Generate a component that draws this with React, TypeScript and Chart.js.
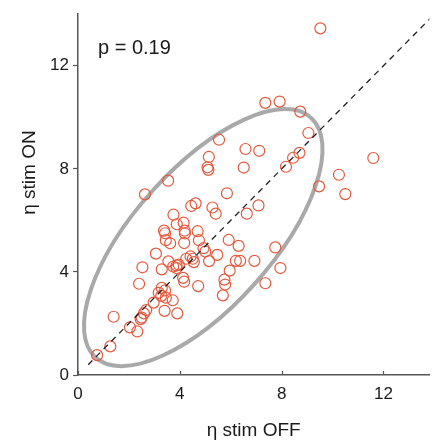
import React, { useEffect, useRef } from "react";
import { Chart, registerables } from "chart.js";

Chart.register(...registerables);

// Data (η stim OFF, η stim ON)
const stimOff: number[] = [
  9.52, 7.36, 7.92, 8.73, 9.05, 5.54, 6.58, 7.12, 8.70, 8.45,
  8.17, 5.14, 5.09, 5.12, 6.51, 11.6, 10.25, 9.47, 10.5, 3.54,
  2.63, 5.85, 4.45, 4.62, 5.28, 5.41, 6.63, 7.09, 3.75, 3.88,
  4.15, 4.19, 4.20, 3.38, 3.42, 4.70, 3.45, 3.62, 4.17, 4.75,
  5.92, 6.31, 7.75, 3.06, 4.93, 5.00, 4.42, 4.51, 4.25, 5.47,
  5.15, 4.55, 3.55, 3.74, 3.87, 3.96, 3.87, 3.29, 2.53, 6.20,
  6.37, 6.93, 5.96, 7.95, 4.13, 4.17, 4.72, 2.40, 5.75, 5.78,
  5.69, 7.36, 3.29, 3.42, 3.17, 3.27, 3.45, 3.72, 2.97, 3.40,
  3.90, 2.68, 2.59, 2.50, 2.46, 2.04, 2.33, 1.40, 1.27, 0.75,
];
const stimOn: number[] = [
  13.45, 10.56, 10.61, 10.22, 9.39, 9.13, 8.77, 8.70, 8.62, 8.43,
  8.08, 8.46, 8.06, 7.96, 8.05, 8.42, 7.77, 7.32, 7.02, 7.54,
  7.01, 7.05, 6.56, 6.66, 6.50, 6.26, 6.26, 6.58, 6.22, 5.85,
  5.91, 5.60, 5.49, 5.60, 5.50, 5.58, 5.23, 5.11, 5.12, 5.23,
  5.24, 5.01, 4.95, 4.71, 4.92, 4.79, 4.60, 4.51, 4.51, 4.66,
  4.42, 4.38, 4.41, 4.21, 4.25, 4.28, 4.15, 4.10, 4.18, 4.43,
  4.43, 4.43, 4.05, 4.15, 3.77, 3.62, 3.45, 3.54, 3.70, 3.51,
  3.09, 3.56, 3.38, 3.28, 3.19, 3.07, 3.00, 2.90, 2.81, 2.49,
  2.39, 2.52, 2.39, 2.23, 2.17, 1.85, 1.69, 2.26, 1.11, 0.77,
];

const identityLine = [0.4, 14];
const xTickValues = [0, 4, 8, 12];
const yTickValues = [0, 4, 8, 12];
const xRange = [0, 13.8];
const yRange = [0, 14];

// Confidence ellipse (data units)
const ellipseCenter = [4.92, 5.33];
const ellipseAxes = [6.29, 2.7];
const ellipseAngleDeg = 47.6;

const pLabel = "p = 0.19";
const xTitle = "η stim OFF";
const yTitle = "η stim ON";

const FONT = "'Liberation Sans', Arial, Helvetica, sans-serif";
const AXIS_COLOR = "#555555";
const TEXT_COLOR = "#1a1a1a";
const POINT_COLOR = "rgb(230, 88, 60)";

const overlayPlugin = {
  id: "overlay",
  beforeDatasetsDraw(chart: any) {
    const { ctx, scales } = chart;
    const xs = scales.x;
    const ys = scales.y;
    const cx = xs.getPixelForValue(ellipseCenter[0]);
    const cy = ys.getPixelForValue(ellipseCenter[1]);
    const pxX = xs.getPixelForValue(1) - xs.getPixelForValue(0);
    const pxY = ys.getPixelForValue(0) - ys.getPixelForValue(1);
    ctx.save();
    ctx.beginPath();
    const th = (ellipseAngleDeg * Math.PI) / 180;
    ctx.save();
    ctx.translate(cx, cy);
    ctx.scale(pxX, -pxY);
    ctx.rotate(th);
    ctx.ellipse(0, 0, ellipseAxes[0], ellipseAxes[1], 0, 0, Math.PI * 2);
    ctx.restore();
    ctx.strokeStyle = "#a9a9a9";
    ctx.lineWidth = 4;
    ctx.stroke();
    ctx.restore();
  },
  afterDraw(chart: any) {
    const { ctx, scales, chartArea } = chart;
    const xs = scales.x;
    ctx.save();
    // inward x ticks
    ctx.strokeStyle = AXIS_COLOR;
    ctx.lineWidth = 1.2;
    xTickValues.forEach((v) => {
      const px = Math.round(xs.getPixelForValue(v)) + 0.5;
      ctx.beginPath();
      ctx.moveTo(px, chartArea.bottom);
      ctx.lineTo(px, chartArea.bottom - 4);
      ctx.stroke();
    });
    ctx.fillStyle = TEXT_COLOR;
    // p value
    ctx.font = `20px ${FONT}`;
    ctx.textAlign = "left";
    ctx.textBaseline = "middle";
    ctx.fillText(pLabel, chartArea.left + 20, chartArea.top + 34);
    // x title
    ctx.font = `19px ${FONT}`;
    ctx.textAlign = "center";
    ctx.fillText(xTitle, (chartArea.left + chartArea.right) / 2, chartArea.bottom + 56);
    // y title
    ctx.translate(chartArea.left - 48, (chartArea.top + chartArea.bottom) / 2 - 22);
    ctx.rotate(-Math.PI / 2);
    ctx.fillText(yTitle, 0, 0);
    ctx.restore();
  },
};

export default function App() {
  const canvasRef = useRef<HTMLCanvasElement | null>(null);

  useEffect(() => {
    document.body.style.margin = "0";
    const canvas = canvasRef.current;
    if (!canvas) return;
    const points = stimOff.map((x, i) => ({ x, y: stimOn[i] }));
    const diag = identityLine.map((v) => ({ x: v, y: v }));
    const chart = new Chart(canvas, {
      type: "scatter",
      data: {
        datasets: [
          {
            type: "line",
            data: diag,
            borderColor: "#222222",
            borderWidth: 1.3,
            borderDash: [6, 5],
            pointRadius: 0,
            fill: false,
            order: 0,
          } as any,
          {
            data: points,
            pointRadius: 5.5,
            pointBorderWidth: 1.2,
            pointBackgroundColor: "rgba(0,0,0,0)",
            pointBorderColor: POINT_COLOR,
            order: 1,
          },
        ],
      },
      options: {
        animation: false,
        responsive: false,
        maintainAspectRatio: false,
        layout: { padding: { top: 6, right: 0, left: 0, bottom: 0 } },
        plugins: {
          legend: { display: false },
          tooltip: { enabled: false },
        },
        scales: {
          x: {
            type: "linear",
            min: xRange[0],
            max: xRange[1],
            afterBuildTicks: (s: any) => {
              s.ticks = xTickValues.map((v) => ({ value: v }));
            },
            afterFit: (s: any) => {
              s.height = 69;
            },
            grid: { display: true, drawOnChartArea: false, drawTicks: false },
            border: { display: true, color: AXIS_COLOR, width: 1.5 },
            ticks: {
              padding: 9,
              color: TEXT_COLOR,
              font: { family: FONT, size: 17 },
              maxRotation: 0,
            },
          },
          y: {
            type: "linear",
            min: yRange[0],
            max: yRange[1],
            afterBuildTicks: (s: any) => {
              s.ticks = yTickValues.map((v) => ({ value: v }));
            },
            afterFit: (s: any) => {
              s.width = 78;
            },
            grid: {
              display: true,
              drawOnChartArea: false,
              drawTicks: true,
              tickLength: 5,
              color: AXIS_COLOR,
              tickWidth: 1.2,
            },
            border: { display: true, color: AXIS_COLOR, width: 1.5 },
            ticks: {
              padding: 4,
              color: TEXT_COLOR,
              font: { family: FONT, size: 17 },
            },
          },
        },
      },
      plugins: [overlayPlugin],
    });
    return () => chart.destroy();
  }, []);

  return (
    <div style={{ width: 436, height: 444, background: "#fff" }}>
      <canvas ref={canvasRef} width={436} height={444} style={{ display: "block" }} />
    </div>
  );
}
